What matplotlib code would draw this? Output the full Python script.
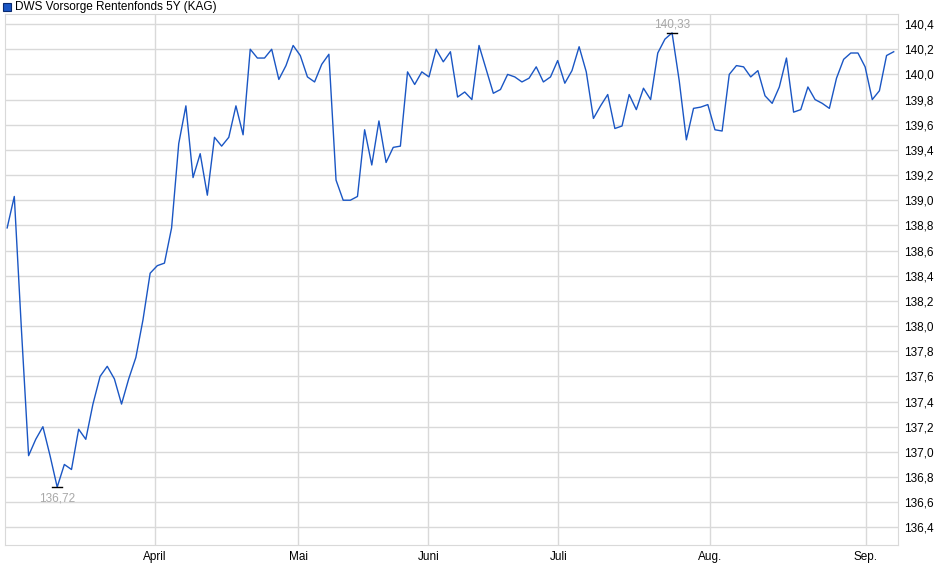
import matplotlib
matplotlib.use("Agg")
import matplotlib.pyplot as plt

# Kursverlauf (Handelstage)
values = [138.78, 139.03, 137.97, 136.97, 137.10, 137.20, 136.97, 136.72, 136.90, 136.86,
          137.18, 137.10, 137.38, 137.60, 137.68, 137.58, 137.38, 137.58, 137.75, 138.05,
          138.42, 138.48, 138.50, 138.78, 139.45, 139.75, 139.18, 139.37, 139.04, 139.50,
          139.43, 139.50, 139.75, 139.52, 140.20, 140.13, 140.13, 140.20, 139.96, 140.07,
          140.23, 140.15, 139.98, 139.94, 140.08, 140.16, 139.16, 139.00, 139.00, 139.03,
          139.56, 139.28, 139.63, 139.30, 139.42, 139.43, 140.02, 139.92, 140.02, 139.98,
          140.20, 140.10, 140.18, 139.82, 139.86, 139.80, 140.23, 140.04, 139.85, 139.88,
          140.00, 139.98, 139.94, 139.97, 140.06, 139.94, 139.98, 140.11, 139.93, 140.03,
          140.22, 140.02, 139.65, 139.75, 139.84, 139.57, 139.59, 139.84, 139.72, 139.89,
          139.80, 140.17, 140.28, 140.33, 139.95, 139.48, 139.73, 139.74, 139.76, 139.56,
          139.55, 140.00, 140.07, 140.06, 139.98, 140.03, 139.83, 139.77, 139.90, 140.13,
          139.70, 139.72, 139.90, 139.80, 139.77, 139.73, 139.97, 140.12, 140.17, 140.17,
          140.06, 139.80, 139.87, 140.15, 140.18]
month_pos = [20.7, 40.7, 58.9, 77.1, 98.3, 120.1]
month_labels = ["April", "Mai", "Juni", "Juli", "Aug.", "Sep."]
y_ticks = [136.4 + 0.2 * i for i in range(21)]

plt.rcParams['font.family'] = ['Liberation Sans', 'DejaVu Sans']
fig = plt.figure(figsize=(9.4, 5.79), dpi=100)
ax = fig.add_axes([5 / 940, 1 - 545 / 579, 893 / 940, 531 / 579])

x = list(range(len(values)))
ax.plot(x, values, color="#1a56c4", lw=1.0)
ax.set_xlim(-0.3, 124.6)
ax.set_ylim(136.26, 140.48)

ax.set_xticks(month_pos)
ax.set_xticklabels(month_labels, fontsize=8.5)
ax.set_yticks(y_ticks)
ax.set_yticklabels([f"{t:.1f}".replace(".", ",") for t in y_ticks], fontsize=8.5)
ax.yaxis.tick_right()
ax.tick_params(length=0, pad=4)
ax.grid(True, color="#d9d9d9", lw=1)
ax.set_axisbelow(True)
for s in ax.spines.values():
    s.set_color("#d9d9d9")

# Min / Max Markierung
imin = values.index(min(values))
imax = values.index(max(values))
for i, off in [(imin, -8), (imax, 6)]:
    ax.plot([i - 0.7, i + 0.7], [values[i], values[i]], color="black", lw=1)
    ax.annotate(f"{values[i]:.2f}".replace(".", ","), (i, values[i]), xytext=(0, off),
                textcoords="offset points", ha="center", va="center",
                fontsize=8.5, color="#a8a8a8")

fig.patches.append(plt.Rectangle((3 / 940, 1 - 11 / 579), 8 / 940, 8 / 579,
                                 transform=fig.transFigure, facecolor="#1a56c4",
                                 edgecolor="#0a2a70", lw=0.8))
fig.text(15 / 940, 1 - 7 / 579, "DWS Vorsorge Rentenfonds 5Y (KAG)", fontsize=8.5,
         va="center", ha="left")

fig.savefig("out.png", dpi=100)
